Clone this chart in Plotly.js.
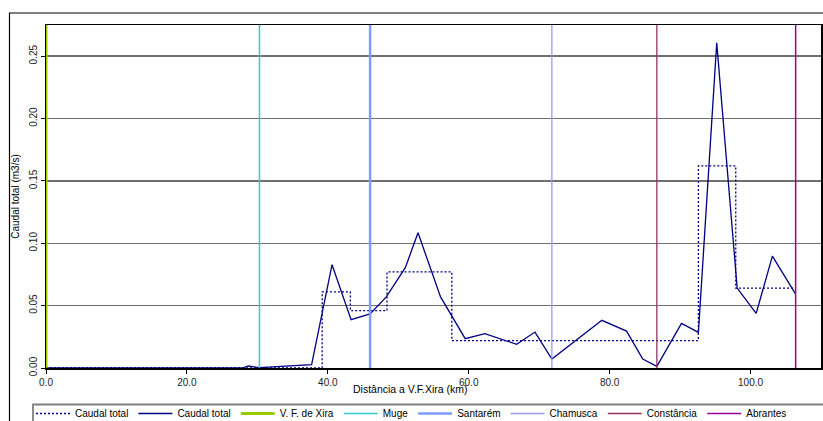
<!DOCTYPE html>
<html>
<head>
<meta charset="utf-8">
<script src="https://cdn.plot.ly/plotly-3.0.1.min.js"></script>
<style>html,body{margin:0;padding:0;background:#fff;}#chart{width:823px;height:421px;}</style>
</head>
<body>
<div id="chart"></div>
<script>
// Solid line: total flow along the river (km from V.F. de Xira)
const distKm = [0, 27.9, 28.7, 30.3, 37.7, 40.6, 43.3, 46.0, 48.3, 51.0, 52.8, 56.0, 59.5, 62.3, 66.8, 69.4, 71.8, 78.9, 82.4, 84.7, 86.7, 90.2, 92.6, 95.2, 98.1, 100.8, 103.1, 106.4];
const caudal = [0, 0, 0.0016, 0.0003, 0.0027, 0.0828, 0.0387, 0.0433, 0.057, 0.0804, 0.1084, 0.057, 0.0235, 0.0275, 0.019, 0.0288, 0.0072, 0.0382, 0.0296, 0.0072, 0.0013, 0.0358, 0.0286, 0.2607, 0.0641, 0.0438, 0.0897, 0.0593];

// Dotted step line: mean flow per stretch (step starts)
const stepKm = [0, 39.2, 43.2, 48.4, 57.6, 92.6, 97.9, 106.4];
const stepCaudal = [0, 0.061, 0.046, 0.077, 0.022, 0.162, 0.064, 0.064];

// Stations (vertical reference lines)
const stations = ["V. F. de Xira", "Muge", "Santarém", "Chamusca", "Constância", "Abrantes"];
const stationKm = [0, 30.3, 46.0, 71.8, 86.7, 106.4];
const stationColors = ["#99cc00", "#33cccc", "#7f9dff", "#9999ff", "#993366", "#990099"];
const stationWidths = [3, 1.5, 2.5, 1.3, 1.3, 1.5];

const yMax = 0.275;
const xTicks = [0, 20, 40, 60, 80, 100];
const yTicks = [0, 0.05, 0.10, 0.15, 0.20, 0.25];

const traces = [];
traces.push({
  x: stepKm, y: stepCaudal, type: 'scatter', mode: 'lines', name: 'Caudal total',
  line: {color: '#000080', width: 1.3, dash: '2px,2px', shape: 'hv'}
});
traces.push({
  x: distKm, y: caudal, type: 'scatter', mode: 'lines', name: 'Caudal total',
  line: {color: '#000080', width: 1.3}
});
stations.forEach((s, i) => {
  traces.push({
    x: [stationKm[i], stationKm[i]], y: [0, yMax], type: 'scatter', mode: 'lines', name: s,
    line: {color: stationColors[i], width: stationWidths[i]}
  });
});

const L = 46, R = 821, T = 25, B = 368;
const W = 823, H = 421;
const px = v => (v - L) / (R - L);
const py = v => (B - v) / (B - T);

const layout = {
  width: W, height: H,
  margin: {l: L, r: W - R, t: T, b: H - B, pad: 0, autoexpand: false},
  paper_bgcolor: '#ffffff', plot_bgcolor: '#ffffff',
  font: {family: 'Liberation Sans, Arial, sans-serif', size: 10, color: '#000'},
  showlegend: true,
  xaxis: {
    range: [0, 110], tickvals: xTicks, ticktext: xTicks.map(v => v.toFixed(1)),
    showgrid: false, zeroline: false, showline: true, linecolor: '#000', linewidth: 1.5, mirror: true,
    layer: 'below traces',
    ticks: 'outside', ticklen: 4, tickcolor: '#000', tickfont: {size: 10, color: '#222'}
  },
  yaxis: {
    range: [0, yMax], tickvals: yTicks, ticktext: yTicks.map(v => v.toFixed(2)), tickangle: -90,
    showgrid: true, gridcolor: '#707070', gridwidth: 1.5, zeroline: false,
    showline: true, linecolor: '#000', linewidth: 1.5, mirror: true,
    layer: 'below traces',
    ticks: 'outside', ticklen: 4, tickcolor: '#000', tickfont: {size: 10, color: '#222'},
    title: {text: 'Caudal total (m3/s)', font: {size: 10, color: '#000'}, standoff: 6}
  },
  legend: {
    orientation: 'h', xref: 'container', yref: 'container',
    x: 31 / W, y: (H - 399) / H, xanchor: 'left', yanchor: 'top',
    borderwidth: 0, bgcolor: 'rgba(0,0,0,0)',
    font: {size: 10, color: '#000'}, entrywidth: 0,
    itemwidth: 34, tracegroupgap: 0
  },
  annotations: [{
    text: 'Distância a V.F.Xira (km)', xref: 'paper', yref: 'paper',
    x: px(410), y: py(389), xanchor: 'center', yanchor: 'middle', showarrow: false,
    font: {size: 10.5, color: '#000'}
  }],
  shapes: [{
    type: 'rect', xref: 'paper', yref: 'paper', layer: 'below',
    x0: px(9.5), x1: px(840), y0: py(440), y1: py(13),
    line: {color: '#000', width: 1.2}, fillcolor: 'rgba(0,0,0,0)'
  }, {
    type: 'rect', xref: 'paper', yref: 'paper', layer: 'below',
    x0: px(33), x1: px(845), y0: py(440), y1: py(404.5),
    line: {color: '#808080', width: 1.8}, fillcolor: 'rgba(0,0,0,0)'
  }]
};

Plotly.newPlot('chart', traces, layout, {displayModeBar: false, staticPlot: true});
</script>
</body>
</html>
